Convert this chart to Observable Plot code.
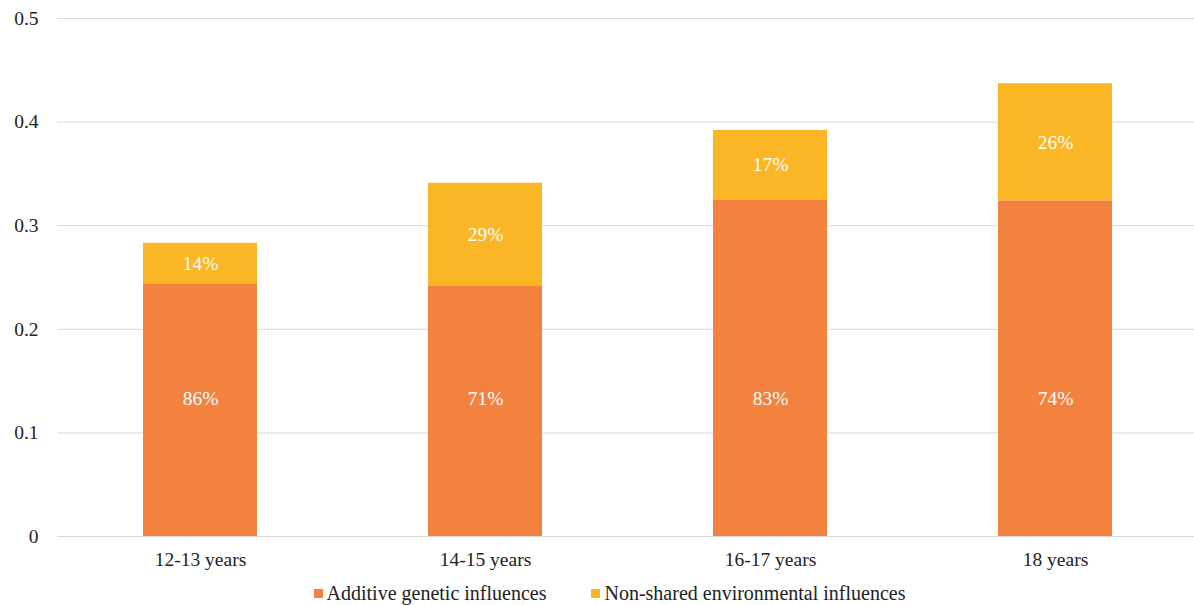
<!DOCTYPE html>
<html>
<head>
<meta charset="utf-8">
<script src="https://cdn.jsdelivr.net/npm/d3@7"></script>
<script src="https://cdn.jsdelivr.net/npm/@observablehq/plot@0.6"></script>
<style>
  html, body { margin: 0; padding: 0; background: #fff; }
  body { width: 1194px; height: 605px; overflow: hidden; font-family: "Liberation Serif", "Times New Roman", serif; }
  #legend { display: flex; justify-content: center; gap: 45px; font-size: 20px; color: #222; height: 30px; align-items: center; margin-left: 25px; margin-top: 3px; }
  #legend .item { display: flex; align-items: center; }
  #legend .sw { width: 9px; height: 9px; margin-right: 4px; display: inline-block; }
</style>
</head>
<body>
<div id="chart"></div>
<div id="legend"></div>
<script>
const ages = ["12-13 years", "14-15 years", "16-17 years", "18 years"];
const series = ["Additive genetic influences", "Non-shared environmental influences"];
const additive = [0.244, 0.242, 0.325, 0.324];
const nonShared = [0.039, 0.099, 0.067, 0.113];
const additivePct = ["86%", "71%", "83%", "74%"];
const nonSharedPct = ["14%", "29%", "17%", "26%"];
const additiveLabelValue = 0.133;
const yTicks = [0, 0.1, 0.2, 0.3, 0.4, 0.5];
const colors = ["#F4823F", "#FBB626"];

const rows = [];
ages.forEach((a, i) => {
  rows.push({age: a, series: series[0], value: additive[i], label: additivePct[i]});
  rows.push({age: a, series: series[1], value: nonShared[i], label: nonSharedPct[i]});
});
const addRows = rows.filter(d => d.series === series[0]);
const nsRows = rows.filter(d => d.series === series[1]);

const chart = Plot.plot({
  width: 1194,
  height: 575,
  marginTop: 18,
  marginBottom: 39,
  marginLeft: 57,
  marginRight: 0,
  style: {fontFamily: "'Liberation Serif', 'Times New Roman', serif", fontSize: "19.5px", color: "#222", background: "#fff"},
  x: {domain: ages, range: [56, 1198], paddingInner: 0.6, paddingOuter: 0.3, label: null, tickSize: 0, tickPadding: 16},
  y: {domain: [0, 0.5], ticks: yTicks, tickFormat: d => d === 0 ? "0" : d3.format(".1f")(d), label: null, tickSize: 0, tickPadding: 19},
  color: {domain: series, range: colors},
  marks: [
    Plot.gridY(yTicks, {stroke: "#d9d9d9", strokeOpacity: 1, strokeWidth: 1}),
    Plot.barY(rows, {x: "age", y: "value", fill: "series", order: series}),
    Plot.text(nsRows, {x: "age", y: (d, i) => additive[i] + nonShared[i] / 2, text: "label", fill: "white", fontSize: 19.5}),
    Plot.text(addRows, {x: "age", y: () => additiveLabelValue, text: "label", fill: "white", fontSize: 19.5})
  ]
});
document.getElementById("chart").appendChild(chart);

const legend = document.getElementById("legend");
series.forEach((s, i) => {
  const it = document.createElement("div");
  it.className = "item";
  const sw = document.createElement("span");
  sw.className = "sw";
  sw.style.background = colors[i];
  const t = document.createElement("span");
  t.textContent = s;
  it.appendChild(sw); it.appendChild(t);
  legend.appendChild(it);
});
</script>
</body>
</html>
